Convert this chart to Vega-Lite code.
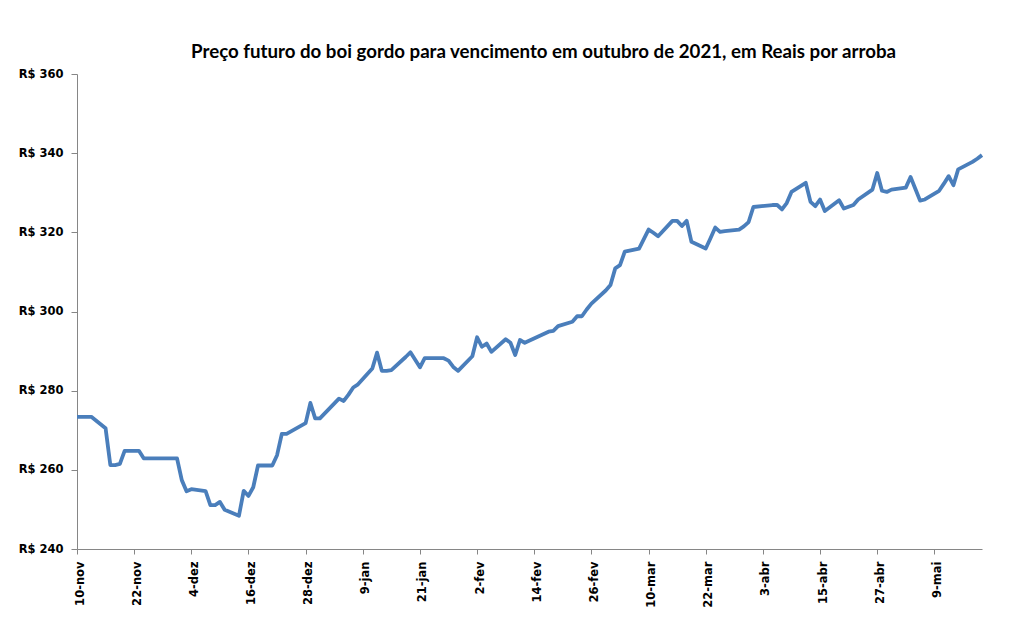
{
  "$schema": "https://vega.github.io/schema/vega-lite/v6.json",
  "width": 905,
  "height": 475,
  "autosize": {"type": "none"},
  "padding": {"left": 77, "top": 74, "right": 30, "bottom": 82},
  "background": "white",
  "title": {
    "text": "Preço futuro do boi gordo para vencimento em outubro de 2021, em Reais por arroba",
    "font": "Lato",
    "fontSize": 18.7,
    "fontWeight": "bold",
    "color": "black",
    "anchor": "middle",
    "frame": "group",
    "offset": 6,
    "dx": 14
  },
  "data": {
    "values": [
      {"d": "2020-11-10", "v": 273.4},
      {"d": "2020-11-11", "v": 273.4},
      {"d": "2020-11-12", "v": 273.4},
      {"d": "2020-11-13", "v": 273.4},
      {"d": "2020-11-16", "v": 270.5},
      {"d": "2020-11-17", "v": 261.2},
      {"d": "2020-11-18", "v": 261.2},
      {"d": "2020-11-19", "v": 261.5},
      {"d": "2020-11-20", "v": 264.8},
      {"d": "2020-11-23", "v": 264.8},
      {"d": "2020-11-24", "v": 262.9},
      {"d": "2020-11-25", "v": 262.9},
      {"d": "2020-11-26", "v": 262.9},
      {"d": "2020-11-27", "v": 262.9},
      {"d": "2020-11-30", "v": 262.9},
      {"d": "2020-12-01", "v": 262.9},
      {"d": "2020-12-02", "v": 257.4},
      {"d": "2020-12-03", "v": 254.6},
      {"d": "2020-12-04", "v": 255.1},
      {"d": "2020-12-07", "v": 254.6},
      {"d": "2020-12-08", "v": 251.1},
      {"d": "2020-12-09", "v": 251.1},
      {"d": "2020-12-10", "v": 251.9},
      {"d": "2020-12-11", "v": 249.9},
      {"d": "2020-12-14", "v": 248.4},
      {"d": "2020-12-15", "v": 254.7},
      {"d": "2020-12-16", "v": 253.4},
      {"d": "2020-12-17", "v": 255.6},
      {"d": "2020-12-18", "v": 261.1},
      {"d": "2020-12-21", "v": 261.1},
      {"d": "2020-12-22", "v": 263.7},
      {"d": "2020-12-23", "v": 269.1},
      {"d": "2020-12-24", "v": 269.1},
      {"d": "2020-12-28", "v": 271.8},
      {"d": "2020-12-29", "v": 276.9},
      {"d": "2020-12-30", "v": 273.0},
      {"d": "2020-12-31", "v": 273.0},
      {"d": "2021-01-04", "v": 278.0},
      {"d": "2021-01-05", "v": 277.4},
      {"d": "2021-01-06", "v": 279.0},
      {"d": "2021-01-07", "v": 280.8},
      {"d": "2021-01-08", "v": 281.6},
      {"d": "2021-01-11", "v": 285.6},
      {"d": "2021-01-12", "v": 289.6},
      {"d": "2021-01-13", "v": 285.0},
      {"d": "2021-01-14", "v": 285.0},
      {"d": "2021-01-15", "v": 285.2},
      {"d": "2021-01-18", "v": 288.5},
      {"d": "2021-01-19", "v": 289.7},
      {"d": "2021-01-20", "v": 287.8},
      {"d": "2021-01-21", "v": 285.9},
      {"d": "2021-01-22", "v": 288.2},
      {"d": "2021-01-26", "v": 288.2},
      {"d": "2021-01-27", "v": 287.6},
      {"d": "2021-01-28", "v": 286.0},
      {"d": "2021-01-29", "v": 285.0},
      {"d": "2021-02-01", "v": 288.7},
      {"d": "2021-02-02", "v": 293.5},
      {"d": "2021-02-03", "v": 291.1},
      {"d": "2021-02-04", "v": 291.9},
      {"d": "2021-02-05", "v": 289.8},
      {"d": "2021-02-08", "v": 293.0},
      {"d": "2021-02-09", "v": 292.1},
      {"d": "2021-02-10", "v": 289.0},
      {"d": "2021-02-11", "v": 292.8},
      {"d": "2021-02-12", "v": 292.1},
      {"d": "2021-02-17", "v": 294.9},
      {"d": "2021-02-18", "v": 295.1},
      {"d": "2021-02-19", "v": 296.3},
      {"d": "2021-02-22", "v": 297.4},
      {"d": "2021-02-23", "v": 298.8},
      {"d": "2021-02-24", "v": 298.8},
      {"d": "2021-02-25", "v": 300.5},
      {"d": "2021-02-26", "v": 302.0},
      {"d": "2021-03-01", "v": 305.3},
      {"d": "2021-03-02", "v": 306.7},
      {"d": "2021-03-03", "v": 310.9},
      {"d": "2021-03-04", "v": 311.7},
      {"d": "2021-03-05", "v": 315.1},
      {"d": "2021-03-08", "v": 315.9},
      {"d": "2021-03-09", "v": 318.3},
      {"d": "2021-03-10", "v": 320.7},
      {"d": "2021-03-11", "v": 319.9},
      {"d": "2021-03-12", "v": 319.0},
      {"d": "2021-03-15", "v": 322.9},
      {"d": "2021-03-16", "v": 322.9},
      {"d": "2021-03-17", "v": 321.6},
      {"d": "2021-03-18", "v": 322.9},
      {"d": "2021-03-19", "v": 317.6},
      {"d": "2021-03-22", "v": 315.9},
      {"d": "2021-03-23", "v": 318.5},
      {"d": "2021-03-24", "v": 321.2},
      {"d": "2021-03-25", "v": 320.1},
      {"d": "2021-03-26", "v": 320.3},
      {"d": "2021-03-29", "v": 320.7},
      {"d": "2021-03-30", "v": 321.5},
      {"d": "2021-03-31", "v": 322.6},
      {"d": "2021-04-01", "v": 326.4},
      {"d": "2021-04-05", "v": 326.9},
      {"d": "2021-04-06", "v": 326.9},
      {"d": "2021-04-07", "v": 325.8},
      {"d": "2021-04-08", "v": 327.4},
      {"d": "2021-04-09", "v": 330.2},
      {"d": "2021-04-12", "v": 332.5},
      {"d": "2021-04-13", "v": 327.7},
      {"d": "2021-04-14", "v": 326.6},
      {"d": "2021-04-15", "v": 328.3},
      {"d": "2021-04-16", "v": 325.4},
      {"d": "2021-04-19", "v": 328.1},
      {"d": "2021-04-20", "v": 326.0},
      {"d": "2021-04-22", "v": 326.9},
      {"d": "2021-04-23", "v": 328.3},
      {"d": "2021-04-26", "v": 330.8},
      {"d": "2021-04-27", "v": 335.0},
      {"d": "2021-04-28", "v": 330.5},
      {"d": "2021-04-29", "v": 330.2},
      {"d": "2021-04-30", "v": 330.8},
      {"d": "2021-05-03", "v": 331.3},
      {"d": "2021-05-04", "v": 334.0},
      {"d": "2021-05-05", "v": 331.0},
      {"d": "2021-05-06", "v": 328.0},
      {"d": "2021-05-07", "v": 328.3},
      {"d": "2021-05-10", "v": 330.5},
      {"d": "2021-05-11", "v": 332.3},
      {"d": "2021-05-12", "v": 334.2},
      {"d": "2021-05-13", "v": 331.9},
      {"d": "2021-05-14", "v": 335.9},
      {"d": "2021-05-17", "v": 337.8},
      {"d": "2021-05-18", "v": 338.6},
      {"d": "2021-05-19", "v": 339.5}
    ]
  },
  "mark": {"type": "line", "color": "#4A7EBB", "strokeWidth": 3.8, "strokeJoin": "round"},
  "encoding": {
    "x": {
      "field": "d",
      "type": "temporal",
      "scale": {
        "type": "utc",
        "nice": false,
        "domain": [
          {"year": 2020, "month": 11, "date": 10, "utc": true},
          {"year": 2021, "month": 5, "date": 19, "utc": true}
        ]
      },
      "axis": {
        "title": null,
        "grid": false,
        "values": [
          {"year": 2020, "month": 11, "date": 10, "utc": true},
          {"year": 2020, "month": 11, "date": 22, "utc": true},
          {"year": 2020, "month": 12, "date": 4, "utc": true},
          {"year": 2020, "month": 12, "date": 16, "utc": true},
          {"year": 2020, "month": 12, "date": 28, "utc": true},
          {"year": 2021, "month": 1, "date": 9, "utc": true},
          {"year": 2021, "month": 1, "date": 21, "utc": true},
          {"year": 2021, "month": 2, "date": 2, "utc": true},
          {"year": 2021, "month": 2, "date": 14, "utc": true},
          {"year": 2021, "month": 2, "date": 26, "utc": true},
          {"year": 2021, "month": 3, "date": 10, "utc": true},
          {"year": 2021, "month": 3, "date": 22, "utc": true},
          {"year": 2021, "month": 4, "date": 3, "utc": true},
          {"year": 2021, "month": 4, "date": 15, "utc": true},
          {"year": 2021, "month": 4, "date": 27, "utc": true},
          {"year": 2021, "month": 5, "date": 9, "utc": true}
        ],
        "labelExpr": "utcdate(datum.value) + '-' + ['jan','fev','mar','abr','mai','jun','jul','ago','set','out','nov','dez'][utcmonth(datum.value)]",
        "labelAngle": -90,
        "labelFont": "DejaVu Sans",
        "labelFontSize": 11.5,
        "labelFontWeight": "bold",
        "labelColor": "black",
        "labelPadding": 7,
        "labelOffset": 3,
        "labelOverlap": false,
        "labelFlush": false,
        "domainColor": "#868686",
        "tickColor": "#868686",
        "tickSize": 5
      }
    },
    "y": {
      "field": "v",
      "type": "quantitative",
      "scale": {"domain": [240, 360], "nice": false, "zero": false},
      "axis": {
        "title": null,
        "grid": false,
        "values": [240, 260, 280, 300, 320, 340, 360],
        "labelExpr": "'R$ ' + datum.value",
        "labelFont": "DejaVu Sans",
        "labelFontSize": 11.5,
        "labelFontWeight": "bold",
        "labelColor": "black",
        "labelPadding": 8,
        "domainColor": "#868686",
        "tickColor": "#868686",
        "tickSize": 6
      }
    }
  },
  "config": {"view": {"stroke": null}}
}
